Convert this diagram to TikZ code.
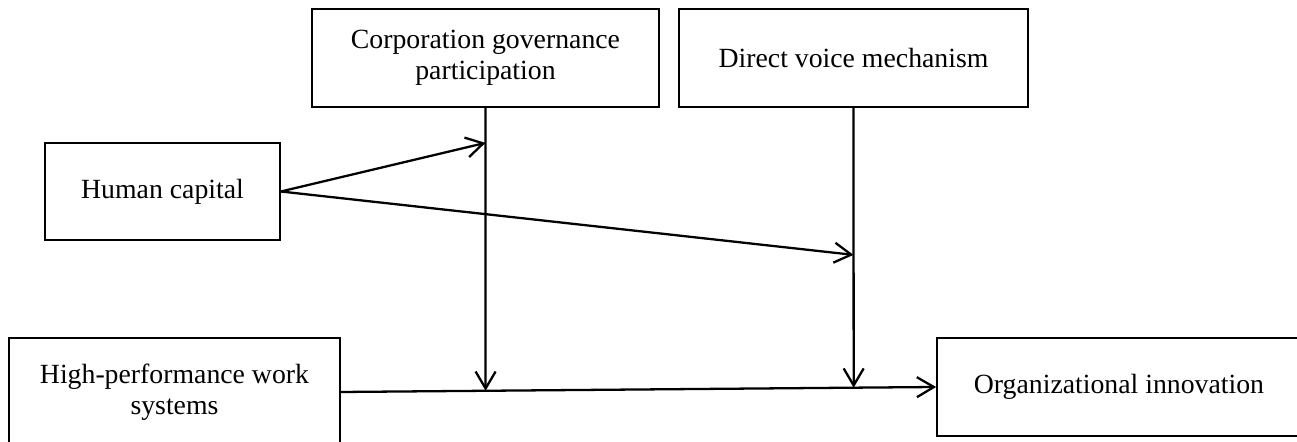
\documentclass[tikz,border=0pt]{standalone}
\usepackage{fontspec}
\setmainfont{Liberation Serif}
\usetikzlibrary{arrows.meta, calc}

\tikzset{
	box/.style={draw, line width=1pt, align=center, inner sep=0pt, font=\fontsize{15.8}{17.8}\selectfont},
	link/.style={line width=1.3pt, -{Straight Barb[length=0.34cm, width=0.4cm, line width=1.3pt]}}
}

\begin{document}
\begin{tikzpicture}
	
	\useasboundingbox (0,0) rectangle (25.94,8.84);
	
	\node (corp) [box, minimum width=6.94cm, minimum height=1.96cm] at (9.71,7.68) {Corporation governance\\participation};
	\node (voice) [box, minimum width=6.98cm, minimum height=1.96cm] at (17.07,7.68) {Direct voice mechanism};
	\node (human) [box, minimum width=4.70cm, minimum height=1.94cm] at (3.25,5.01) {Human capital};
	\node (hpws) [box, minimum width=6.62cm, minimum height=2.16cm] at (3.49,1.00) {High-performance work\\systems};
	\node (org) [box, minimum width=7.28cm, minimum height=1.96cm] at (22.38,1.10) {Organizational innovation};
	
	% where the moderators meet their lines
	\coordinate (corpin) at ($(corp.south)+(0,-0.70)$);
	\coordinate (voicein) at ($(voice.south)+(0,-2.94)$);
	\coordinate (corpout) at (intersection of corp.north--corp.south and hpws.east--org.west);
	\coordinate (voiceout) at (intersection of voice.north--voice.south and hpws.east--org.west);
	
	\draw [link] (human.east) -- (corpin);
	\draw [link] (human.east) -- (voicein);
	
	\draw [link] (hpws.east) -- (org.west);
	
	\draw [link] (corp.south) -- (corpout);
	\draw [link] (voice.south) -- (voiceout);
	
\end{tikzpicture}
\end{document}
